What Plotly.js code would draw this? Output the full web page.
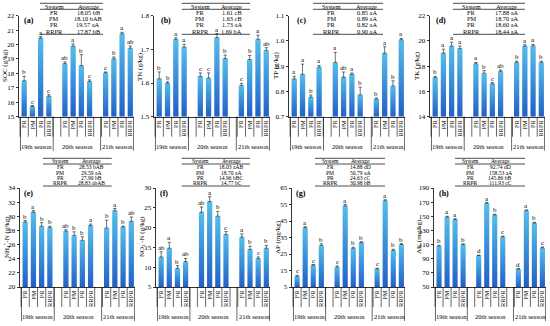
<!DOCTYPE html>
<html><head><meta charset="utf-8">
<script src="https://cdn.plot.ly/plotly-3.0.1.min.js"></script>
<style>html,body{margin:0;padding:0;background:#fff;}#chart{width:550px;height:326px;}</style>
</head><body><div id="chart"></div>
<script>
// ---------- DATA ----------
const systems = ['FR','PM','PR','RRPR'];
const seasons = ['19th season','20th season','21th season'];

const socValues  = [17.5,15.72,20.45,16.43, 18.68,19.9,18.55,17.45, 18.05,19.02,20.75,19.75];
const socErrors  = [0.3,0.05,0.1,0.1, 0.12,0.15,0.75,0.1, 0.05,0.12,0.1,0.15];
const socLetters = ['b','c','a','c','ab','a','b','c','c','b','a','ab'];
const socAverages = ['18.05 bB','18.10 bAB','19.57 aA','17.87 bB'];

const tnValues  = [1.613,1.600,1.730,1.707, 1.620,1.615,1.735,1.673, 1.593,1.670,1.730,1.697];
const tnErrors  = [0.02,0.004,0.004,0.008, 0.01,0.015,0.012,0.01, 0.006,0.012,0.012,0.008];
const tnLetters = ['b','b','a','a','c','c','a','b','c','b','a','ab'];
const tnAverages = ['1.61 cB','1.63 cB','1.73 aA','1.69 bA'];

const tpValues  = [0.850,0.868,0.778,0.897, 0.915,0.857,0.868,0.787, 0.770,0.952,0.822,1.005];
const tpErrors  = [0.01,0.04,0.008,0.006, 0.04,0.02,0.005,0.03, 0.004,0.025,0.02,0.005];
const tpLetters = ['a','a','b','a','a','ab','a','b','b','a','b','a'];
const tpAverages = ['0.85 aA','0.89 aA','0.82 aA','0.90 aA'];

const tkValues  = [17.1,19.05,19.6,19.4, 18.2,17.45,16.6,17.6, 18.3,19.6,19.62,18.3];
const tkErrors  = [0.1,0.3,0.3,0.2, 0.1,0.2,0.1,0.1, 0.1,0.1,0.1,0.1];
const tkLetters = ['b','a','a','a','a','b','c','ab','b','a','a','b'];
const tkAverages = ['17.88 aA','18.70 aA','18.60 aA','18.44 aA'];

const nhValues  = [29.2,30.6,28.6,28.4, 27.9,27.3,26.6,28.7, 28.35,30.8,28.5,29.3];
const nhErrors  = [0.2,0.2,0.5,0.2, 0.2,0.5,0.5,0.2, 1.1,0.3,0.1,0.6];
const nhLetters = ['b','a','b','b','ab','b','b','a','b','a','b','ab'];
const nhAverages = ['28.53 bAB','29.59 aA','27.90 bB','28.83 abAB'];

const noValues  = [12.6,14.8,9.7,11.4, 23.9,26.6,22.9,18.3, 17.6,14.5,12.2,14.8];
const noErrors  = [1.3,1.5,0.7,0.8, 1.3,1.2,1.2,0.7, 0.8,0.8,0.4,0.7];
const noLetters = ['ab','a','b','ab','ab','a','b','c','a','b','c','b'];
const noAverages = ['18.03 aAB','18.70 aA','14.96 bBC','14.77 bC'];

const apValues  = [11.5,41,18.3,30.2, 17,54.2,28.5,32, 16,57.3,27.2,30.8];
const apErrors  = [0.6,0.5,0.3,1.0, 0.8,0.8,0.6,0.4, 0.4,0.6,0.7,0.5];
const apLetters = ['c','a','c','b','c','a','b','b','c','a','b','b'];
const apAverages = ['14.88 dD','50.79 aA','24.63 cC','30.98 bB'];

const akValues  = [108,149,145.5,110, 94.5,168.5,152,121, 75.5,158,140.5,105.5];
const akErrors  = [1,1,1,1, 0.5,1,1,1, 0.5,1,1,1];
const akLetters = ['b','a','a','b','d','a','b','c','d','a','b','c'];
const akAverages = ['92.74 dD','158.53 aA','145.86 bB','111.93 cC'];

// ---------- LAYOUT / STYLE ----------
const W = 550, H = 326;
const X = v => v / W, Y = v => 1 - v / H;
const FONT = 'Liberation Serif, Times New Roman, serif';
const groupStep = 4.95, barW = 0.64;
const xRange = [-0.63, 13.35];
const dividers = [-0.45, 3.53, 9.29, 13.3];

const positions = [], tickText = [];
seasons.forEach((s, g) => systems.forEach((c, i) => { positions.push(g * groupStep + i); tickText.push(c); }));
const seasonCenters = seasons.map((s, g) => g * groupStep + 1.5);
const boundaries = [];
seasons.forEach((s, g) => { for (let k = -0.5; k <= 3.5; k += 1) boundaries.push(g * groupStep + k); });

const panels = [
  {label:'(a)', title:'SOC (g/kg)', vals:socValues, errs:socErrors, lets:socLetters, table:socAverages, yMin:15, yMax:22, dtick:1, fmt:''},
  {label:'(b)', title:'TN (g/kg)', vals:tnValues, errs:tnErrors, lets:tnLetters, table:tnAverages, yMin:1.5, yMax:1.8, dtick:0.1, fmt:'.1f'},
  {label:'(c)', title:'TP (g/kg)', vals:tpValues, errs:tpErrors, lets:tpLetters, table:tpAverages, yMin:0.7, yMax:1.1, dtick:0.1, fmt:'.1f'},
  {label:'(d)', title:'TK (g/kg)', vals:tkValues, errs:tkErrors, lets:tkLetters, table:tkAverages, yMin:14, yMax:22, dtick:2, fmt:''},
  {label:'(e)', title:'NH<sub>4</sub><sup>+</sup>-N (g/kg)', vals:nhValues, errs:nhErrors, lets:nhLetters, table:nhAverages, yMin:20, yMax:34, dtick:2, fmt:''},
  {label:'(f)', title:'NO<sub>3</sub><sup>-</sup>-N (g/kg)', vals:noValues, errs:noErrors, lets:noLetters, table:noAverages, yMin:5, yMax:30, dtick:5, fmt:''},
  {label:'(g)', title:'AP (mg/kg)', vals:apValues, errs:apErrors, lets:apLetters, table:apAverages, yMin:5, yMax:65, dtick:10, fmt:''},
  {label:'(h)', title:'AK (mg/kg)', vals:akValues, errs:akErrors, lets:akLetters, table:akAverages, yMin:50, yMax:190, dtick:20, fmt:''}
];
const geom = [
  {x:[19,134], row:0, tbl:[40,103,54,88], lab:[29,21], yt:5},
  {x:[154,270], row:0, tbl:[181.7,250,200,231.7], lab:[166,21], yt:140},
  {x:[289,405], row:0, tbl:[313,383,331.7,366.7], lab:[301,21], yt:276},
  {x:[430,545], row:0, tbl:[453,525,471.7,506.7], lab:[441,21], yt:417},
  {x:[20,135], row:1, tbl:[43,111.7,60,91.7], lab:[28,193], yt:6},
  {x:[156,270], row:1, tbl:[181.7,250,200,231.7], lab:[164,193], yt:141},
  {x:[292,405], row:1, tbl:[315,385,330,360], lab:[301,193], yt:278},
  {x:[434,546], row:1, tbl:[455,525,470,500], lab:[444,193], yt:419}
];
const rows = [
  {top:15.7, bot:116.7, tLines:[3.3,9.3,34.3], tHead:6.3, tRows:[12.5,18.7,24.9,31.1], tFont:6.3, ytY:66},
  {top:188, bot:287, tLines:[158.3,164,186], tHead:161.2, tRows:[167.0,172.5,178.0,183.4], tFont:5.6, ytY:237}
];

const data = [], annotations = [], shapes = [];
const layout = {width:W, height:H, margin:{l:0,r:0,t:0,b:0}, paper_bgcolor:'#fff', plot_bgcolor:'#fff',
  showlegend:false, hovermode:false, font:{family:FONT, color:'#000'}};

panels.forEach((p, k) => {
  const g = geom[k], r = rows[g.row];
  const n = k === 0 ? '' : String(k + 1);
  const xa = 'x' + n, ya = 'y' + n;
  data.push({type:'bar', x:positions, y:p.vals.map(v => v - p.yMin), base:p.yMin, width:barW,
    xaxis:xa, yaxis:ya, marker:{color:'#3a8fdc', line:{width:0}},
    error_y:{type:'data', symmetric:false, array:p.errs, arrayminus:p.errs.map(() => 0), color:'#333', thickness:0.7, width:1.6}});
  layout['xaxis' + n] = {domain:[X(g.x[0]), X(g.x[1])], anchor:ya, range:xRange, tickvals:positions, ticktext:tickText,
    tickangle:-90, ticks:'', showline:true, linecolor:'#000', linewidth:0.8, showgrid:false, zeroline:false,
    tickfont:{family:FONT, size:6.5, color:'#000'}, fixedrange:true};
  layout['yaxis' + n] = {domain:[Y(r.bot), Y(r.top)], anchor:xa, range:[p.yMin, p.yMax], tick0:p.yMin, dtick:p.dtick,
    tickformat:p.fmt, ticks:'outside', ticklen:2.5, tickwidth:0.8, tickcolor:'#000', showline:true, linecolor:'#000',
    linewidth:0.8, showgrid:false, zeroline:false, tickfont:{family:FONT, size:7, color:'#000'}, fixedrange:true};
  // y-axis title
  annotations.push({xref:'paper', yref:'paper', x:X(g.yt), y:Y(r.ytY), text:p.title, textangle:-90, showarrow:false,
    xanchor:'center', yanchor:'middle', borderpad:0, font:{family:FONT, size:7, color:'#000'}});
  // significance letters
  p.lets.forEach((t, i) => annotations.push({xref:xa, yref:ya, x:positions[i], y:p.vals[i] + p.errs[i], text:t,
    showarrow:false, yanchor:'bottom', yshift:-1, borderpad:0, font:{family:FONT, size:7, color:'#000'}}));
  // season labels
  seasons.forEach((s, gi) => annotations.push({xref:xa, yref:'paper', x:seasonCenters[gi], y:Y(r.bot + 29.3), text:s,
    showarrow:false, yanchor:'middle', font:{family:FONT, size:6.5, color:'#000'}}));
  // divider lines below axis
  boundaries.forEach(b => shapes.push({type:'line', xref:xa, yref:'paper', x0:b, x1:b, y0:Y(r.bot), y1:Y(r.bot + 20), line:{color:'#000', width:0.6}}));
  dividers.forEach(b => shapes.push({type:'line', xref:xa, yref:'paper', x0:b, x1:b, y0:Y(r.bot), y1:Y(r.bot + 34), line:{color:'#000', width:0.6}}));
  // panel label
  annotations.push({xref:'paper', yref:'paper', x:X(g.lab[0]), y:Y(g.lab[1]), text:'<b>' + p.label + '</b>', showarrow:false,
    xanchor:'center', yanchor:'middle', font:{family:FONT, size:8, color:'#000'}});
  // inset table
  const [t0, t1, c1, c2] = g.tbl;
  r.tLines.forEach(yl => shapes.push({type:'line', xref:'paper', yref:'paper', x0:X(t0), x1:X(t1), y0:Y(yl), y1:Y(yl), line:{color:'#000', width:0.7}}));
  const addCell = (txt, cx, cy) => annotations.push({xref:'paper', yref:'paper', x:X(cx), y:Y(cy), text:txt, showarrow:false,
    xanchor:'center', yanchor:'middle', borderpad:0, font:{family:FONT, size:r.tFont, color:'#000'}});
  addCell('System', c1, r.tHead); addCell('Average', c2, r.tHead);
  systems.forEach((s, i) => { addCell(s, c1, r.tRows[i]); addCell(p.table[i], c2, r.tRows[i]); });
});
layout.annotations = annotations;
layout.shapes = shapes;

Plotly.newPlot('chart', data, layout, {staticPlot:true, displayModeBar:false}).then(gd => {
  const ns = 'http://www.w3.org/2000/svg';
  const svg = gd.querySelector('svg.main-svg');
  let defs = svg.querySelector('defs');
  if (!defs) { defs = document.createElementNS(ns, 'defs'); svg.insertBefore(defs, svg.firstChild); }
  const lg = document.createElementNS(ns, 'linearGradient');
  lg.setAttribute('id', 'barGrad'); lg.setAttribute('x1', '0'); lg.setAttribute('y1', '0'); lg.setAttribute('x2', '0'); lg.setAttribute('y2', '1');
  [['0%', '#55bdeb'], ['100%', '#2160c6']].forEach(([o, c]) => {
    const s = document.createElementNS(ns, 'stop'); s.setAttribute('offset', o); s.setAttribute('stop-color', c); lg.appendChild(s);
  });
  defs.appendChild(lg);
  gd.querySelectorAll('.barlayer .point path').forEach(pth => { pth.style.fill = 'url(#barGrad)'; });
});
</script>
</body></html>
